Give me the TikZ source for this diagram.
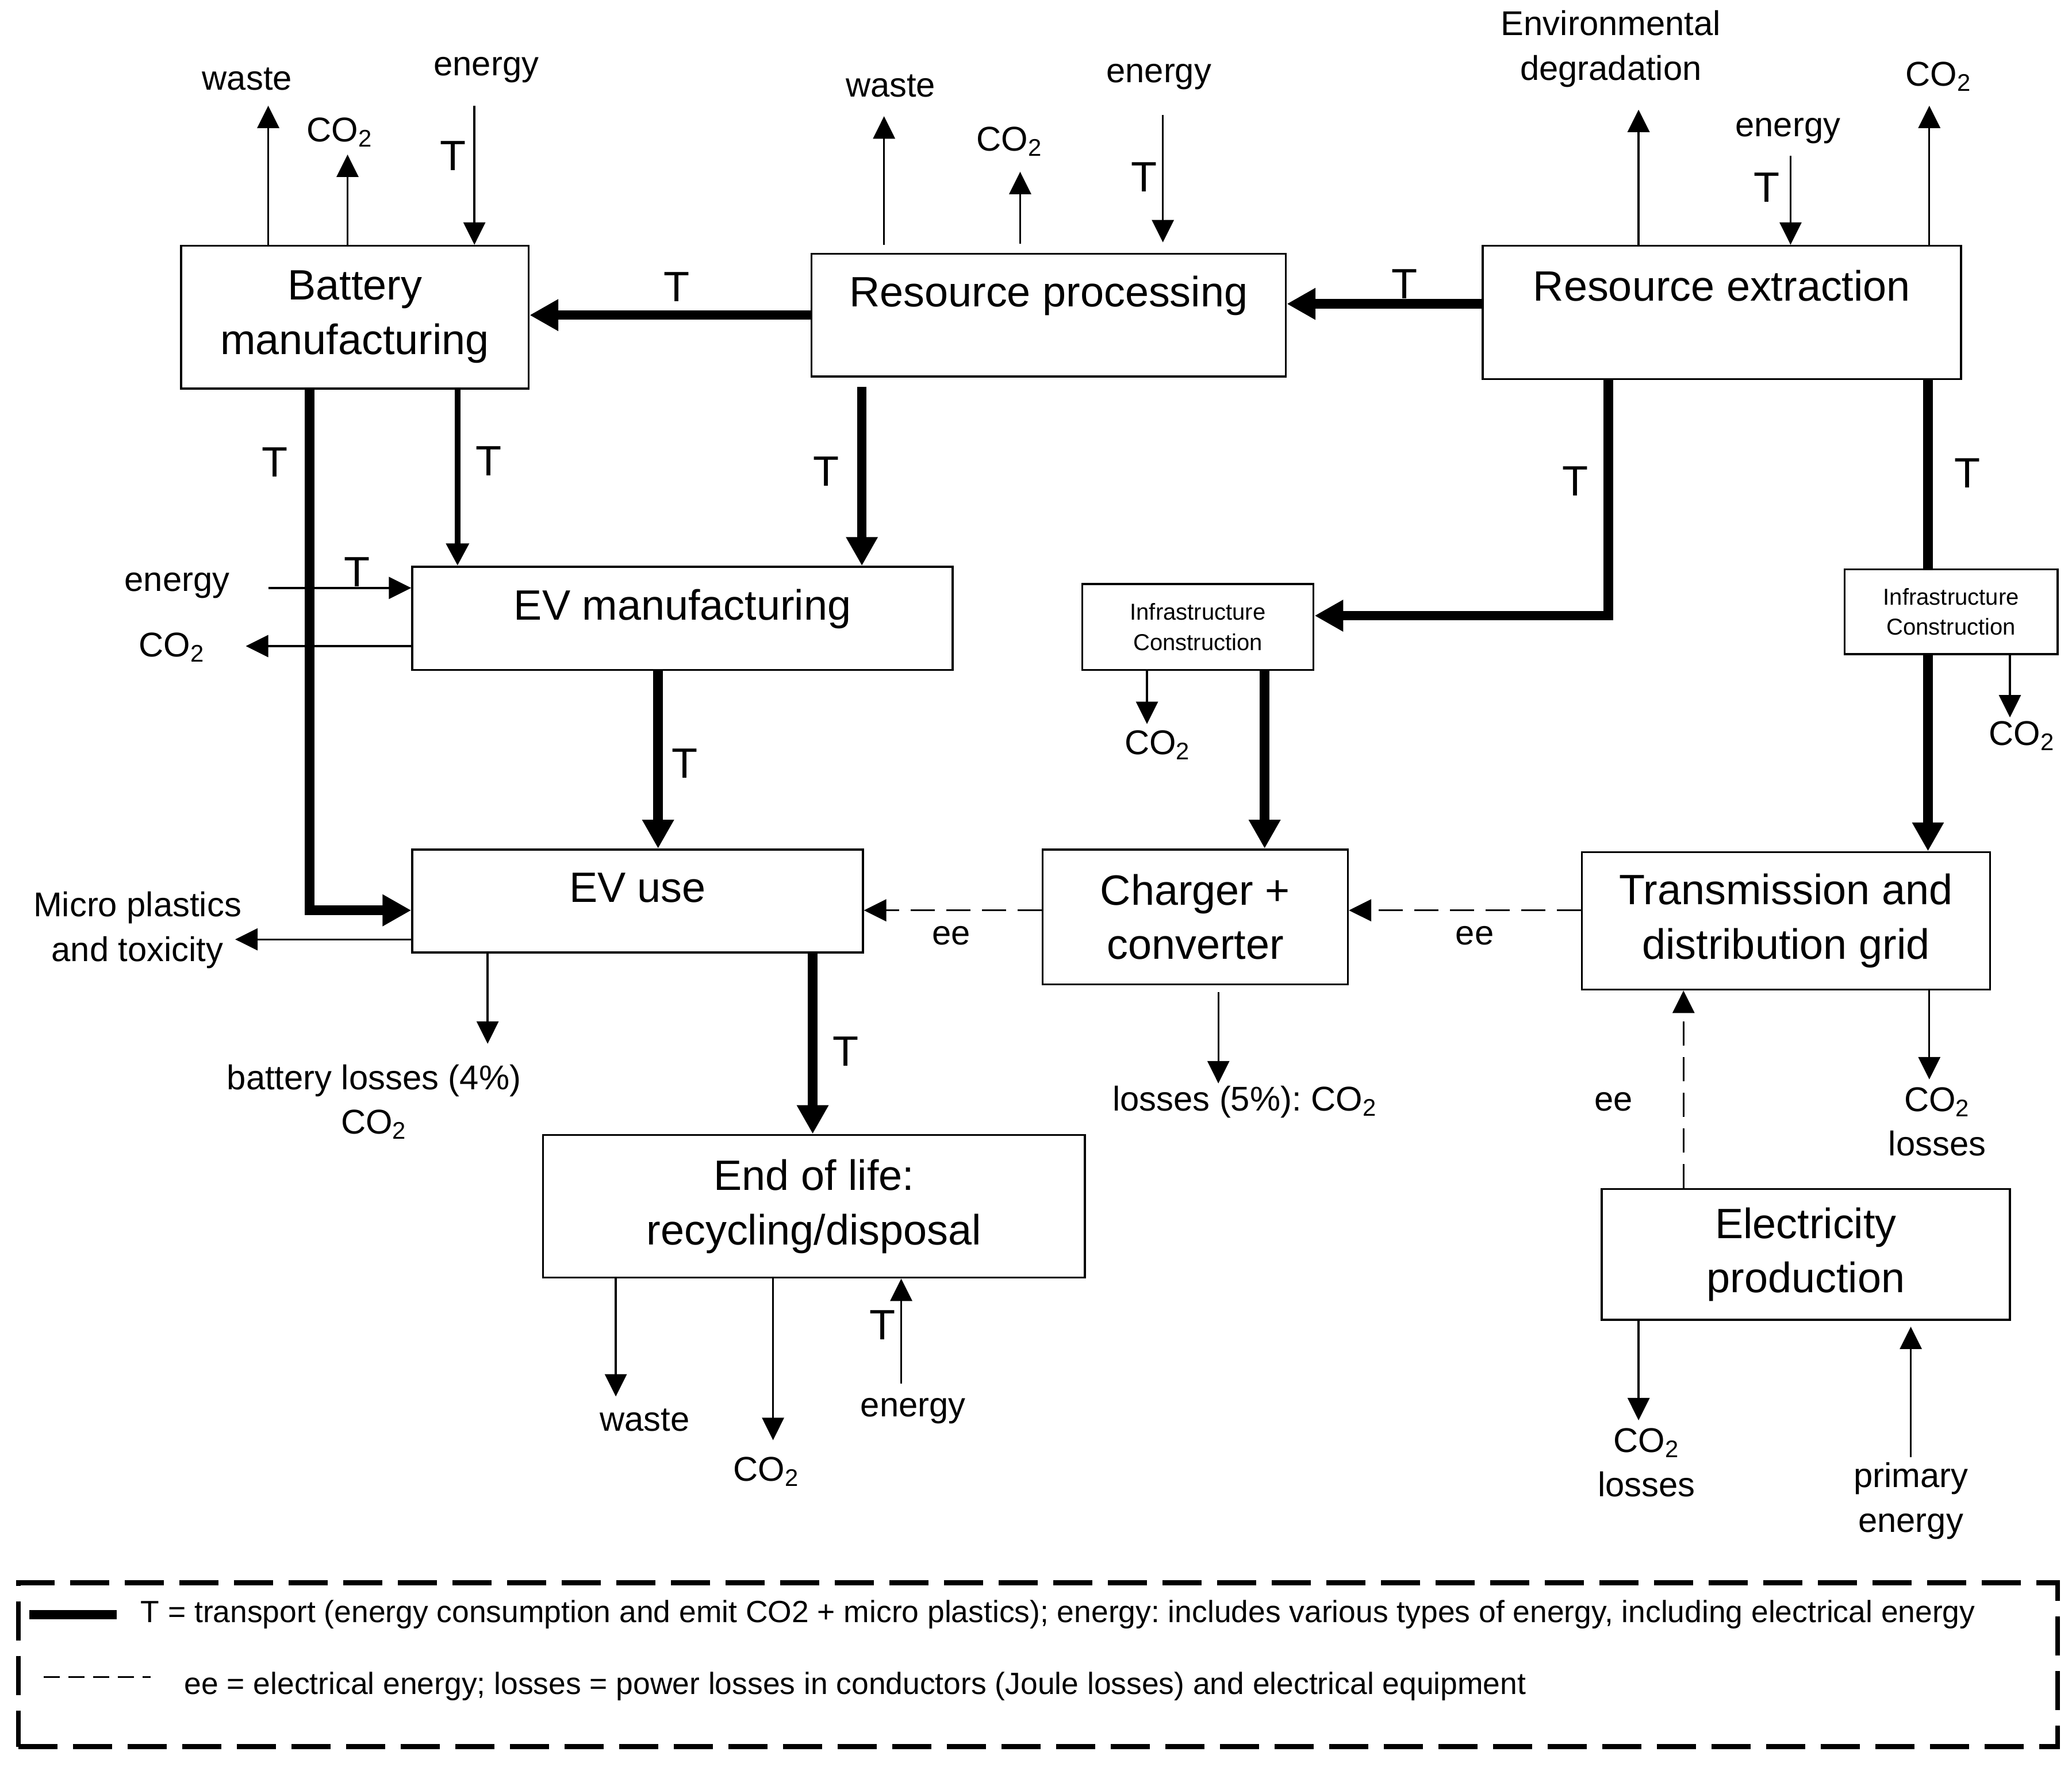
\documentclass[tikz,border=0pt]{standalone}
\usepackage{fontspec}
\setmainfont{Liberation Sans}
\usepackage{tikz}
\usetikzlibrary{arrows.meta,calc}
\newlength\gpx
\setlength\gpx{0.22985mm}
\newcommand{\COtwo}{CO\textsubscript{2}}
\frenchspacing

\begin{document}
\begin{tikzpicture}[
    x=0.22985mm, y=-0.22985mm,
    procnode/.style={draw, line width=1pt, align=center, inner sep=2pt,
        font=\fontsize{21pt}{27pt}\selectfont},
    infranode/.style={procnode, font=\fontsize{11.4pt}{15pt}\selectfont},
    boxsize/.style 2 args={minimum width=#1*\gpx, minimum height=#2*\gpx},
    flowlabel/.style={align=center, inner sep=0pt,
        font=\fontsize{17pt}{22pt}\selectfont},
    tlabel/.style={inner sep=0pt, font=\fontsize{21pt}{27pt}\selectfont},
    thinflow/.style={line width=0.95pt, -{Triangle[length=3.9mm, width=3.8mm]}},
    midflow/.style={line width=2.8pt, -{Triangle[length=3.9mm, width=3.8mm]}},
    transportline/.style={line width=4.7pt},
    transport/.style={transportline, -{Triangle[length=5mm, width=5.2mm]}},
    elecflow/.style={thinflow, dash pattern=on 4.2mm off 2mm},
    legendbox/.style={draw, line width=2.4pt, dash pattern=on 6.8mm off 2.7mm},
    legendtext/.style={anchor=west, inner sep=0pt,
        font=\fontsize{15.2pt}{19pt}\selectfont},
]
\useasboundingbox (0,0) rectangle (1568,1337);

\node[procnode, boxsize={263}{108}] (batman) at (268.5,240) {Battery\\manufacturing};
\node[procnode, boxsize={359}{93}, text depth=8.3mm] (respro) at (793.5,238.5) {Resource processing};
\node[procnode, boxsize={362}{101}, text depth=9.4mm] (resext) at (1303,236.5) {Resource extraction};
\node[procnode, boxsize={409}{78}, text depth=4.8mm] (evman) at (516.5,468) {EV manufacturing};
\node[procnode, boxsize={341}{78}, text depth=4.6mm] (evuse) at (482.5,682) {EV use};
\node[infranode, boxsize={175}{65}] (infmid) at (906.5,474.5) {Infrastructure\\Construction};
\node[infranode, boxsize={161}{64}] (infright) at (1476.5,463) {Infrastructure\\Construction};
\node[procnode, boxsize={231}{102}] (charger) at (904.5,694) {Charger +\\converter};
\node[procnode, boxsize={309}{104}] (grid) at (1351.5,697) {Transmission and\\distribution grid};
\node[procnode, boxsize={410}{108}] (eol) at (616,913) {End of life:\\recycling/disposal};
\node[procnode, boxsize={309}{99}] (elprod) at (1366.5,949.5) {Electricity\\production};

\coordinate (bmW) at (203,80);
\coordinate (bmC) at (263,117);
\coordinate (bmE) at (359,80);
\node[flowlabel] (bmWaste) at (187,60) {waste};
\node[flowlabel] (bmCO) at (257,100) {\COtwo};
\node[flowlabel] (bmEn) at (368,53) {energy};
\draw[thinflow] (bmW |- batman.north) -- (bmW);
\draw[thinflow] (bmC |- batman.north) -- (bmC);
\draw[thinflow] (bmE) -- (bmE |- batman.north);
\node[tlabel] (t1) at (343,118) {T};

\coordinate (rpW) at (669,88);
\coordinate (rpC) at (772,130);
\coordinate (rpE) at (880,87);
\node[flowlabel] (rpWaste) at (674,65) {waste};
\node[flowlabel] (rpCO) at (764,107) {\COtwo};
\node[flowlabel] (rpEn) at (877,58) {energy};
\draw[thinflow, shorten <=1.4mm] (rpW |- respro.north) -- (rpW);
\draw[thinflow, shorten <=1.6mm] (rpC |- respro.north) -- (rpC);
\draw[thinflow, shorten >=1.8mm] (rpE) -- (rpE |- respro.north);
\node[tlabel] (t2) at (866,134) {T};

\coordinate (reD) at (1240,83);
\coordinate (reE) at (1355,118);
\coordinate (reC) at (1460,80);
\node[flowlabel] (reDeg) at (1219,37) {Environmental\\degradation};
\node[flowlabel] (reEn) at (1353,99) {energy};
\node[flowlabel] (reCO) at (1467,58) {\COtwo};
\draw[thinflow] (reD |- resext.north) -- (reD);
\draw[thinflow] (reE) -- (reE |- resext.north);
\draw[thinflow] (reC |- resext.north) -- (reC);
\node[tlabel] (t3) at (1337,142) {T};

\draw[transport] ([yshift=6.5*\gpx]resext.west) coordinate (a1) -- (a1 -| respro.east);
\node[tlabel] (t4) at (1063,215) {T};
\draw[transport] (respro.west) -- (respro.west -| batman.east);
\node[tlabel] (t5) at (512,217) {T};
\draw[transport, shorten <=1.6mm] ([xshift=39*\gpx]respro.south west) coordinate (a2) -- (a2 |- evman.north);
\node[tlabel] (t6) at (625,357) {T};
\draw[transport] ([xshift=98*\gpx]batman.south west) |- ([yshift=-7*\gpx]evuse.west);
\node[tlabel] (t7) at (208,350) {T};
\draw[midflow] ([xshift=210*\gpx]batman.south west) coordinate (a3) -- (a3 |- evman.north);
\node[tlabel] (t8) at (370,349) {T};

\coordinate (emE) at (203,445);
\coordinate (emC) at (186,489);
\node[flowlabel] (emEn) at (134,443) {energy};
\node[flowlabel] (emCO) at (130,490) {\COtwo};
\draw[thinflow] (emE) -- (emE -| evman.west);
\draw[thinflow] (emC -| evman.west) -- (emC);
\node[tlabel] (t9) at (270,433) {T};
\draw[transport] ([xshift=-18.5*\gpx]evman.south) coordinate (a4) -- (a4 |- evuse.north);
\node[tlabel] (t10) at (518,578) {T};

\draw[transport] ([xshift=-86*\gpx]resext.south) |- ([yshift=8.5*\gpx]infmid.east);
\node[tlabel] (t11) at (1192,364) {T};
\draw[transportline] ([xshift=156*\gpx]resext.south) coordinate (a5) -- (a5 |- infright.north);
\node[tlabel] (t12) at (1489,358) {T};
\draw[transport] (a5 |- infright.south) -- (a5 |- grid.north);
\draw[transport] ([xshift=50.5*\gpx]infmid.south) coordinate (a6) -- (a6 |- charger.north);

\coordinate (irC) at (1521,543);
\coordinate (imC) at (868,548);
\node[flowlabel] (irCO) at (1530,557) {\COtwo};
\node[flowlabel] (imCO) at (876,564) {\COtwo};
\draw[thinflow] (irC |- infright.south) -- (irC);
\draw[thinflow] (imC |- infmid.south) -- (imC);

\draw[elecflow] ([yshift=5*\gpx]charger.west) coordinate (a7) -- (a7 -| evuse.east);
\node[flowlabel] (ee1) at (720,708) {ee};
\draw[elecflow] ([yshift=8*\gpx]grid.west) coordinate (a8) -- (a8 -| charger.east);
\node[flowlabel] (ee2) at (1116,708) {ee};
\draw[elecflow] ([xshift=-92.5*\gpx]elprod.north) coordinate (a9) -- (a9 |- grid.south);
\node[flowlabel] (ee3) at (1221,834) {ee};

\coordinate (gdC) at (1460,817);
\coordinate (chL) at (922,820);
\node[flowlabel] (gdCO) at (1466,849) {\COtwo\\losses};
\node[flowlabel] (chLoss) at (942,834) {losses (5\%): \COtwo};
\draw[thinflow] (gdC |- grid.south) -- (gdC);
\draw[thinflow, shorten <=1.2mm] (chL |- charger.south) -- (chL);

\coordinate (euM) at (178,711);
\coordinate (euB) at (369,790);
\node[flowlabel] (euMicro) at (104,704) {Micro plastics\\and toxicity};
\node[flowlabel] (euBat) at (283,834) {battery losses (4\%)\\\COtwo};
\draw[thinflow] (euM -| evuse.west) -- (euM);
\draw[thinflow] (euB |- evuse.south) -- (euB);
\draw[transport] ([xshift=132.5*\gpx]evuse.south) coordinate (a10) -- (a10 |- eol.north);
\node[tlabel] (t13) at (640,796) {T};

\coordinate (elW) at (466,1057);
\coordinate (elC) at (585,1090);
\coordinate (elE) at (682,1047);
\node[flowlabel] (elWaste) at (488,1075) {waste};
\node[flowlabel] (elCO) at (580,1114) {\COtwo};
\node[flowlabel] (elEn) at (691,1068) {energy};
\draw[thinflow] (elW |- eol.south) -- (elW);
\draw[thinflow] (elC |- eol.south) -- (elC);
\draw[thinflow] (elE) -- (elE |- eol.south);
\node[tlabel] (t14) at (668,1003) {T};

\coordinate (epC) at (1240,1075);
\coordinate (epP) at (1446,1103);
\node[flowlabel] (epCO) at (1246,1107) {\COtwo\\losses};
\node[flowlabel] (epPrim) at (1446,1136) {primary\\energy};
\draw[thinflow] (epC |- elprod.south) -- (epC);
\draw[thinflow, shorten >=1mm] (epP) -- (epP |- elprod.south);

\node[legendbox, boxsize={1543}{124}] (legend) at (785.5,1260) {};
\draw[transportline] ([shift={(10,26)}]legend.north west) -- ++(66,0);
\draw[line width=0.95pt, dash pattern=on 2.8mm off 1.5mm] ([shift={(21,73)}]legend.north west) -- ++(81,0);
\node[legendtext] (leg1) at ([shift={(94,26)}]legend.north west)
    {T = transport (energy consumption and emit CO2 + micro plastics); energy: includes various types of energy, including electrical energy};
\node[legendtext] (leg2) at ([shift={(127,80)}]legend.north west)
    {ee = electrical energy; losses = power losses in conductors (Joule losses) and electrical equipment};
\end{tikzpicture}
\end{document}
